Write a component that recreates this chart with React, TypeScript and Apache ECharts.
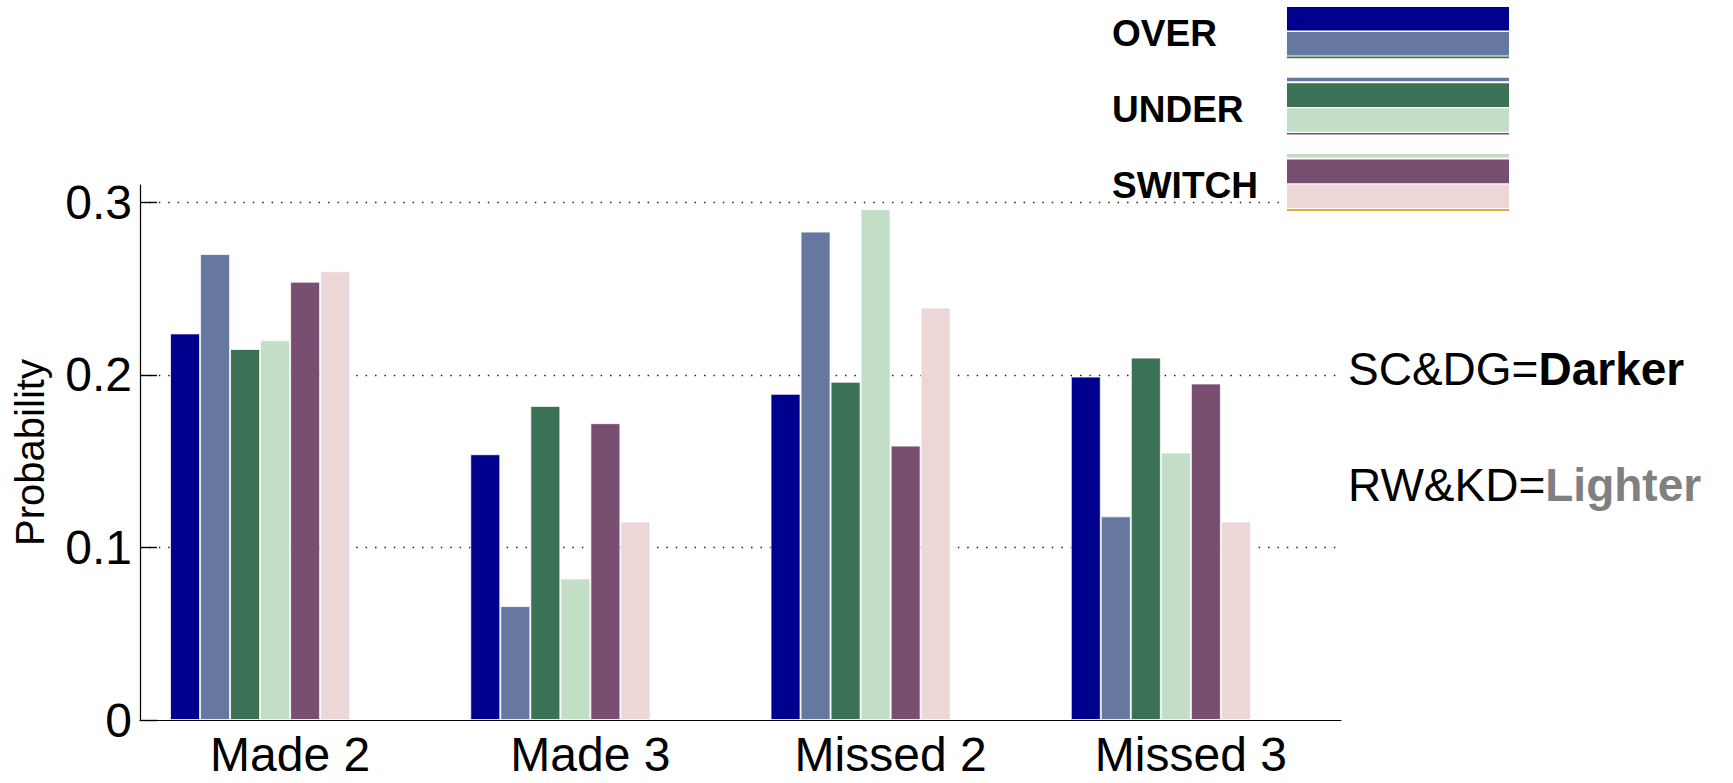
import React, { useEffect, useRef } from 'react';
import * as echarts from 'echarts';

const categories = ['Made 2', 'Made 3', 'Missed 2', 'Missed 3'];
const overSCDG = [0.224, 0.154, 0.189, 0.199];
const overRWKD = [0.270, 0.066, 0.283, 0.118];
const underSCDG = [0.215, 0.182, 0.196, 0.210];
const underRWKD = [0.220, 0.082, 0.296, 0.155];
const switchSCDG = [0.254, 0.172, 0.159, 0.195];
const switchRWKD = [0.260, 0.115, 0.239, 0.115];
const unusedA = [0, 0, 0, 0];
const unusedB = [0, 0, 0, 0];
const yTicks = [0, 0.1, 0.2, 0.3];
const yMax = 0.31;
const legendNames = ['OVER', 'UNDER', 'SWITCH'];
const colors = ['#00008f', '#6677a0', '#3b7256', '#c2dec6', '#794f71', '#ecd6d6', '#e38a00', '#ffffff'];
const seriesNames = ['OVER SC&DG', 'OVER RW&KD', 'UNDER SC&DG', 'UNDER RW&KD', 'SWITCH SC&DG', 'SWITCH RW&KD', 'unused A', 'unused B'];
const seriesValues = [overSCDG, overRWKD, underSCDG, underRWKD, switchSCDG, switchRWKD, unusedA, unusedB];

const FONT = "'Liberation Sans', Arial, Helvetica, sans-serif";

export default function App() {
  const ref = useRef<HTMLDivElement>(null);
  useEffect(() => {
    document.body.style.margin = '0';
    const chart = echarts.init(ref.current!, null, { renderer: 'svg' });

    const legendGraphics: any[] = [];
    const lx = 1287;
    const lw = 222;
    legendGraphics.push({ type: 'rect', z: 99, shape: { x: lx - 8, y: 0, width: lw + 16, height: 215 }, style: { fill: '#fff' } });
    legendNames.forEach((name, g) => {
      const top = 7 + g * 76.3;
      if (g > 0) {
        legendGraphics.push({ type: 'rect', z: 100, shape: { x: lx, y: top - 5.5, width: lw, height: 3.5 }, style: { fill: colors[2 * g - 1] } });
      }
      legendGraphics.push({ type: 'rect', z: 100, shape: { x: lx, y: top, width: lw, height: 23.6 }, style: { fill: colors[2 * g] } });
      legendGraphics.push({ type: 'rect', z: 100, shape: { x: lx, y: top + 25, width: lw, height: 23.4 }, style: { fill: colors[2 * g + 1] } });
      legendGraphics.push({ type: 'rect', z: 100, shape: { x: lx, y: top + 49.6, width: lw, height: 1.6 }, style: { fill: colors[2 * g + 2] } });
      legendGraphics.push({
        type: 'text',
        z: 100,
        x: 1112,
        y: top + 26,
        style: { text: name, fontFamily: FONT, fontWeight: 'bold', fontSize: 37, fill: '#000', verticalAlign: 'middle', align: 'left' },
      });
    });

    const option: any = {
      animation: false,
      backgroundColor: '#fff',
      grid: { left: 140, right: 392, top: 185, bottom: 63 },
      xAxis: {
        type: 'category',
        data: categories,
        axisLine: { show: true, lineStyle: { color: '#000', width: 1.2 } },
        axisTick: { show: false },
        axisLabel: { fontSize: 48, color: '#000', fontFamily: FONT, margin: 10 },
        splitLine: { show: false },
      },
      yAxis: {
        type: 'value',
        min: 0,
        max: yMax,
        interval: 0.1,
        name: 'Probability',
        nameLocation: 'middle',
        nameGap: 90,
        nameTextStyle: { fontSize: 40, color: '#000', fontFamily: FONT },
        axisLine: { show: true, lineStyle: { color: '#000', width: 1.2 } },
        axisTick: { show: true, inside: true, length: 17, customValues: yTicks, lineStyle: { color: '#000', width: 1.4 } },
        axisLabel: {
          fontSize: 48,
          color: '#000',
          fontFamily: FONT,
          margin: 8,
          customValues: yTicks,
          formatter: (v: number) => (yTicks.some((t) => Math.abs(t - v) < 1e-9) ? String(Math.round(v * 10) / 10) : ''),
        },
        splitLine: {
          show: true,
          showMinLine: false,
          lineStyle: { color: '#222', width: 1.3, type: [1.5, 7.9] },
        },
      },
      series: seriesValues.map((vals, i) => ({
        type: 'bar',
        name: seriesNames[i],
        data: vals,
        barGap: '0%',
        barCategoryGap: '20%',
        itemStyle: {
          color: colors[i],
          borderColor: i < 6 ? 'rgba(255,255,255,0.75)' : 'rgba(0,0,0,0)',
          borderWidth: i < 6 ? 1 : 0,
        },
        silent: true,
      })),
      graphic: [
        ...legendGraphics,
        {
          type: 'text',
          z: 100,
          x: 1348,
          y: 369,
          style: {
            text: '{a|SC&DG=}{b|Darker}',
            verticalAlign: 'middle',
            align: 'left',
            rich: {
              a: { fontSize: 46, fontFamily: FONT, fill: '#000', color: '#000' },
              b: { fontSize: 46, fontFamily: FONT, fontWeight: 'bold', fill: '#000', color: '#000' },
            },
          },
        },
        {
          type: 'text',
          z: 100,
          x: 1348,
          y: 485,
          style: {
            text: '{a|RW&KD=}{b|Lighter}',
            verticalAlign: 'middle',
            align: 'left',
            rich: {
              a: { fontSize: 46, fontFamily: FONT, fill: '#000', color: '#000' },
              b: { fontSize: 46, fontFamily: FONT, fontWeight: 'bold', fill: '#808080', color: '#808080' },
            },
          },
        },
      ],
    };
    chart.setOption(option);
    return () => chart.dispose();
  }, []);
  return <div ref={ref} style={{ position: 'absolute', left: 0, top: 0, width: 1733, height: 783 }} />;
}
